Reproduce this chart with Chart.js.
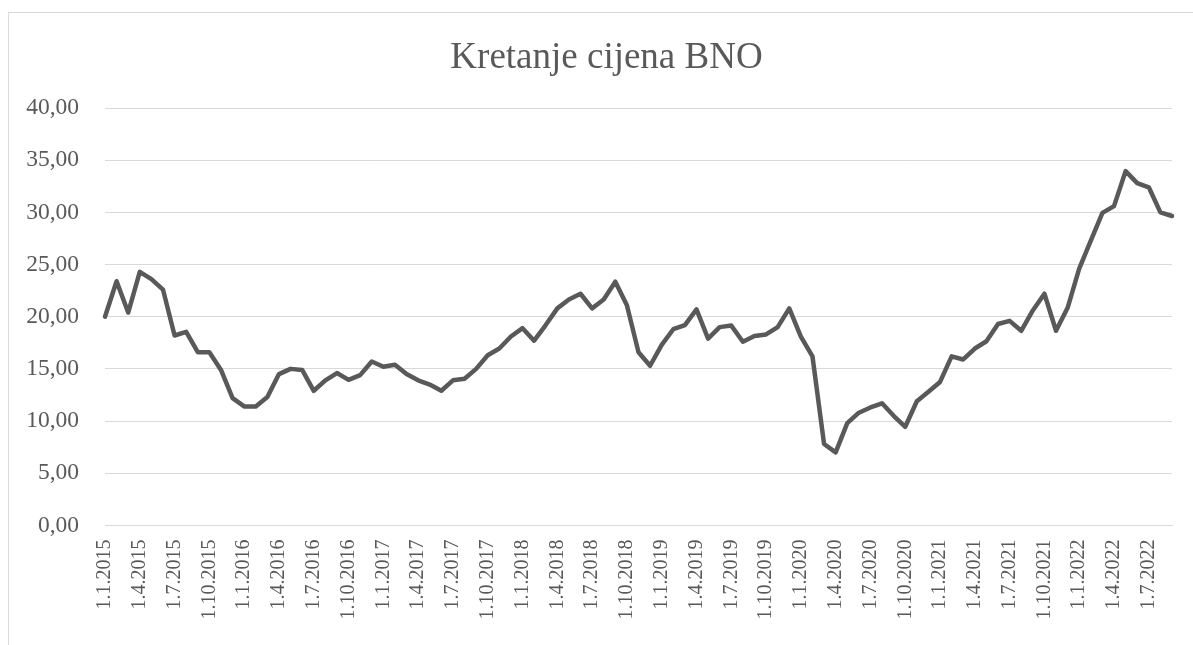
<!DOCTYPE html>
<html>
<head>
<meta charset="utf-8">
<script src="https://cdn.jsdelivr.net/npm/chart.js@4/dist/chart.umd.min.js"></script>
<style>
  html, body { margin: 0; padding: 0; background: #ffffff; overflow: hidden; }
  #frame { position: absolute; left: 8px; top: 12px; width: 1300px; height: 800px; border: 1px solid #d9d9d9; box-sizing: border-box; }
  #wrap { position: absolute; left: 0; top: 0; width: 1213px; height: 645px; }
</style>
</head>
<body>
<div id="frame"></div>
<div id="wrap"><canvas id="c" width="1213" height="645"></canvas></div>
<script>
const title = "Kretanje cijena BNO";
const categories = [
  "1.1.2015","1.2.2015","1.3.2015","1.4.2015","1.5.2015","1.6.2015","1.7.2015","1.8.2015","1.9.2015","1.10.2015","1.11.2015","1.12.2015",
  "1.1.2016","1.2.2016","1.3.2016","1.4.2016","1.5.2016","1.6.2016","1.7.2016","1.8.2016","1.9.2016","1.10.2016","1.11.2016","1.12.2016",
  "1.1.2017","1.2.2017","1.3.2017","1.4.2017","1.5.2017","1.6.2017","1.7.2017","1.8.2017","1.9.2017","1.10.2017","1.11.2017","1.12.2017",
  "1.1.2018","1.2.2018","1.3.2018","1.4.2018","1.5.2018","1.6.2018","1.7.2018","1.8.2018","1.9.2018","1.10.2018","1.11.2018","1.12.2018",
  "1.1.2019","1.2.2019","1.3.2019","1.4.2019","1.5.2019","1.6.2019","1.7.2019","1.8.2019","1.9.2019","1.10.2019","1.11.2019","1.12.2019",
  "1.1.2020","1.2.2020","1.3.2020","1.4.2020","1.5.2020","1.6.2020","1.7.2020","1.8.2020","1.9.2020","1.10.2020","1.11.2020","1.12.2020",
  "1.1.2021","1.2.2021","1.3.2021","1.4.2021","1.5.2021","1.6.2021","1.7.2021","1.8.2021","1.9.2021","1.10.2021","1.11.2021","1.12.2021",
  "1.1.2022","1.2.2022","1.3.2022","1.4.2022","1.5.2022","1.6.2022","1.7.2022","1.8.2022","1.9.2022"
];
const bnoPrice = [
  20.0, 23.4, 20.4, 24.3, 23.6, 22.6, 18.2, 18.55, 16.6, 16.6, 14.9, 12.2,
  11.4, 11.4, 12.3, 14.5, 15.0, 14.9, 12.9, 13.9, 14.6, 13.95, 14.4, 15.7,
  15.2, 15.4, 14.5, 13.9, 13.5, 12.9, 13.9, 14.05, 15.0, 16.3, 16.95, 18.1,
  18.9, 17.7, 19.2, 20.8, 21.65, 22.2, 20.8, 21.65, 23.35, 21.1, 16.6, 15.3,
  17.3, 18.8, 19.2, 20.7, 17.9, 19.0, 19.15, 17.6, 18.15, 18.3, 19.0, 20.8,
  18.1, 16.2, 7.8, 7.0, 9.8, 10.8, 11.3, 11.7, 10.5, 9.45, 11.9, 12.8,
  13.75, 16.2, 15.9, 16.95, 17.65, 19.3, 19.6, 18.65, 20.6, 22.2, 18.65, 20.85,
  24.6, 27.3, 29.95, 30.6, 33.95, 32.8, 32.4, 30.0, 29.65
];
const yTicks = [0, 5, 10, 15, 20, 25, 30, 35, 40];
const labelEvery = 3;

const textColor = "#595959";
const gridColor = "#d9d9d9";
const serif = "'Liberation Serif', 'Times New Roman', serif";

new Chart(document.getElementById("c"), {
  type: "line",
  data: {
    labels: categories,
    datasets: [{
      label: "BNO",
      data: bnoPrice,
      borderColor: "#595959",
      borderWidth: 4.5,
      pointRadius: 0,
      pointHoverRadius: 0,
      tension: 0,
      fill: false,
      borderJoinStyle: "round",
      borderCapStyle: "round",
      clip: false
    }]
  },
  options: {
    responsive: false,
    animation: false,
    devicePixelRatio: 1,
    layout: { padding: { left: 0, right: 0, top: 0, bottom: 0 } },
    plugins: {
      legend: { display: false },
      tooltip: { enabled: false },
      title: {
        display: true,
        text: title,
        color: textColor,
        font: { family: serif, size: 37, weight: "normal" },
        padding: { top: 36, bottom: 27.6 }
      }
    },
    scales: {
      x: {
        type: "category",
        offset: false,
        grid: { display: false, drawTicks: false },
        border: { display: true, color: gridColor, width: 1 },
        ticks: {
          autoSkip: false,
          minRotation: 90,
          maxRotation: 90,
          padding: 14,
          color: textColor,
          font: { family: serif, size: 20 },
          callback: function (value, index) {
            return index % labelEvery === 0 ? categories[index] : "";
          }
        },
        afterFit: function (scale) {
          scale.height = 119.6;
          scale.paddingLeft = 0;
          scale.paddingRight = 41;
        }
      },
      y: {
        min: yTicks[0],
        max: yTicks[yTicks.length - 1],
        afterBuildTicks: function (scale) {
          scale.ticks = yTicks.map(function (v) { return { value: v }; });
        },
        grid: { color: gridColor, lineWidth: 1, drawTicks: false },
        border: { display: false },
        ticks: {
          padding: 26,
          color: textColor,
          font: { family: serif, size: 23.5 },
          callback: function (value) { return Number(value).toFixed(2).replace(".", ","); }
        },
        afterFit: function (scale) { scale.width = 105; }
      }
    }
  }
});
</script>
</body>
</html>
